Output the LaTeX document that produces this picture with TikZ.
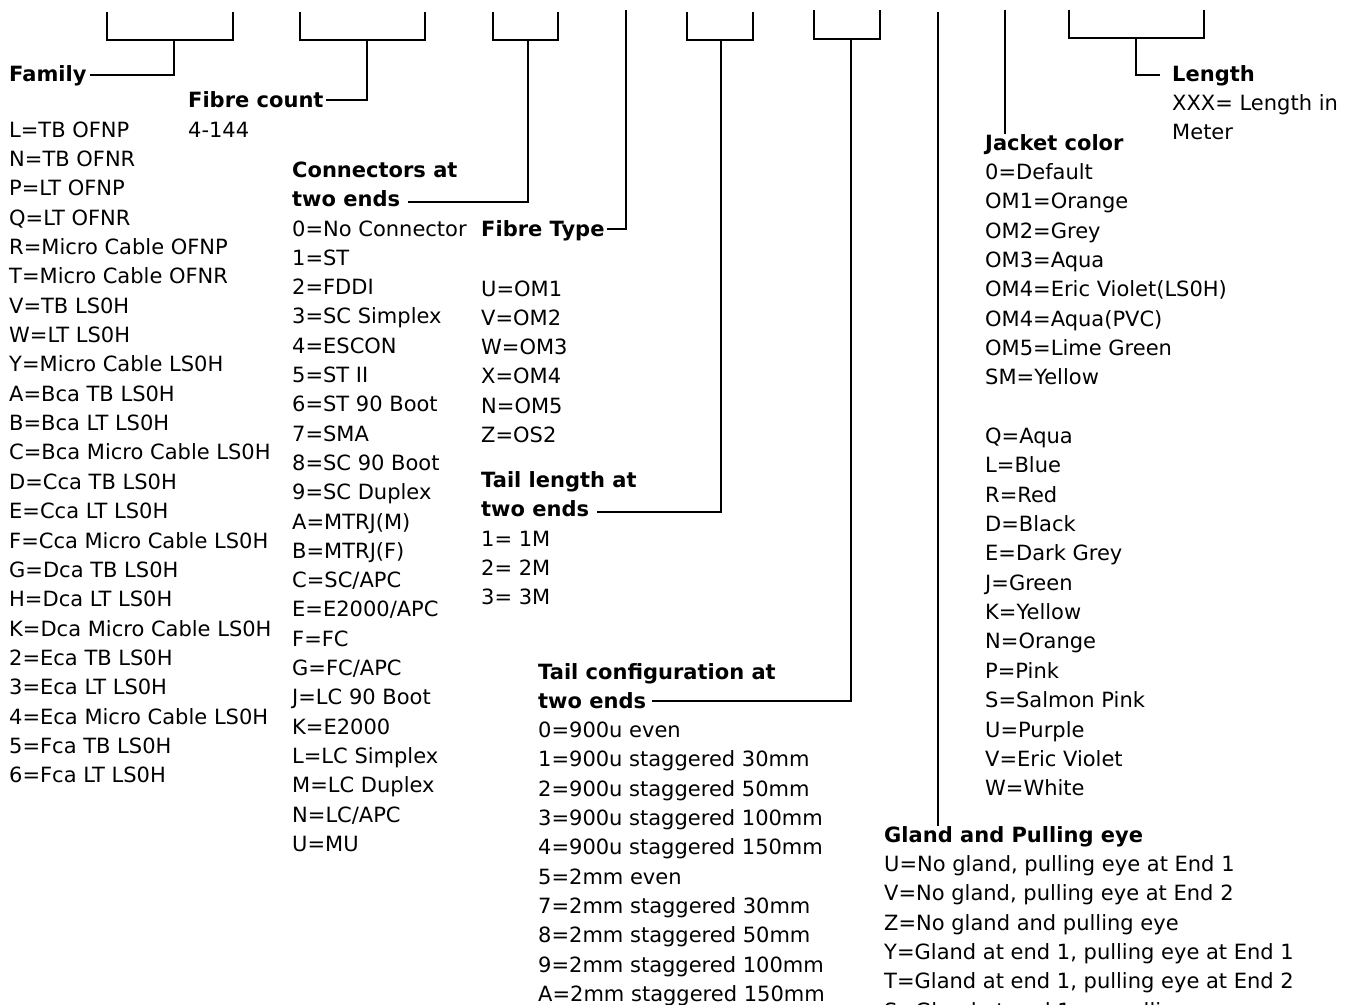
\documentclass[tikz,border=0pt]{standalone}
\usepackage{fontspec}
\setmainfont{DejaVu Sans}
\usetikzlibrary{calc}
\tikzset{
  txt/.style={anchor=base west, inner sep=0pt, font=\fontsize{21}{25}\selectfont},
  hd/.style={txt, font=\fontsize{21}{25}\selectfont\bfseries},
  ln/.style={line width=2pt, black}
}
\begin{document}
\begin{tikzpicture}[x=1pt,y=-1pt]
\useasboundingbox (0,0) rectangle (1352,1004);
\fill[white] (0,0) rectangle (1352,1004);

% ---- top brackets ----
\coordinate (b1l) at (107,12); \coordinate (b1r) at (233,12); \coordinate (b1s) at (174,40);
\coordinate (b2l) at (300,12); \coordinate (b2r) at (425,12); \coordinate (b2s) at (367,40);
\coordinate (b3l) at (493,12); \coordinate (b3r) at (558,12); \coordinate (b3s) at (528,40);
\coordinate (ftop) at (626,10);
\coordinate (b4l) at (687,12); \coordinate (b4r) at (753,12); \coordinate (b4s) at (721,40);
\coordinate (b5l) at (814,10); \coordinate (b5r) at (880,10); \coordinate (b5s) at (851,39);
\coordinate (gtop) at (938,12);
\coordinate (jtop) at (1005,10);
\coordinate (b6l) at (1069,10); \coordinate (b6r) at (1204,10); \coordinate (b6s) at (1136,38);

\draw[ln] (b1l) |- (b1s) -| (b1r);
\draw[ln] (b2l) |- (b2s) -| (b2r);
\draw[ln] (b3l) |- (b3s) -| (b3r);
\draw[ln] (b4l) |- (b4s) -| (b4r);
\draw[ln] (b5l) |- (b5s) -| (b5r);
\draw[ln] (b6l) |- (b6s) -| (b6r);

% ---- Family ----
\node[hd] (famhead) at (9,81) {Family};
\foreach \t [count=\i from 0] in {L=TB OFNP, N=TB OFNR, P=LT OFNP, Q=LT OFNR,
  R=Micro Cable OFNP, T=Micro Cable OFNR, V=TB LS0H, W=LT LS0H, Y=Micro Cable LS0H,
  A=Bca TB LS0H, B=Bca LT LS0H, C=Bca Micro Cable LS0H, D=Cca TB LS0H, E=Cca LT LS0H,
  F=Cca Micro Cable LS0H, G=Dca TB LS0H, H=Dca LT LS0H, K=Dca Micro Cable LS0H,
  2=Eca TB LS0H, 3=Eca LT LS0H, 4=Eca Micro Cable LS0H, 5=Fca TB LS0H, 6=Fca LT LS0H}
  \node[txt] (fam\i) at (9,{137+\i*29.36}) {\t};

% ---- Fibre count ----
\node[hd] (fchead) at (188,107.5) {Fibre count};
\node[txt] (fc0) at (188,137) {4-144};

% ---- Connectors ----
\node[hd] (conhead1) at (292,177) {Connectors at};
\node[hd] (conhead2) at (292,206.3) {two ends};
\foreach \t [count=\i from 0] in {0=No Connector, 1=ST, 2=FDDI, 3=SC Simplex, 4=ESCON,
  5=ST II, 6=ST 90 Boot, 7=SMA, 8=SC 90 Boot, 9=SC Duplex, A=MTRJ(M), B=MTRJ(F),
  C=SC/APC, E=E2000/APC, F=FC, G=FC/APC, J=LC 90 Boot, K=E2000, L=LC Simplex,
  M=LC Duplex, N=LC/APC, U=MU}
  \node[txt] (con\i) at (292,{236+\i*29.3}) {\t};

% ---- Fibre Type ----
\node[hd] (fthead) at (481,236) {Fibre Type};
\foreach \t [count=\i from 0] in {U=OM1, V=OM2, W=OM3, X=OM4, N=OM5, Z=OS2}
  \node[txt] (ft\i) at (481,{296+\i*29.3}) {\t};

% ---- Tail length ----
\node[hd] (tlhead1) at (481,487) {Tail length at};
\node[hd] (tlhead2) at (481,516.3) {two ends};
\foreach \t [count=\i from 0] in {1= 1M, 2= 2M, 3= 3M}
  \node[txt] (tl\i) at (481,{546+\i*29.3}) {\t};

% ---- Tail configuration ----
\node[hd] (tchead1) at (538,679) {Tail configuration at};
\node[hd] (tchead2) at (538,708.3) {two ends};
\foreach \t [count=\i from 0] in {0=900u even, 1=900u staggered 30mm, 2=900u staggered 50mm,
  3=900u staggered 100mm, 4=900u staggered 150mm, 5=2mm even, 7=2mm staggered 30mm,
  8=2mm staggered 50mm, 9=2mm staggered 100mm, A=2mm staggered 150mm}
  \node[txt] (tc\i) at (538,{737.6+\i*29.33}) {\t};

% ---- Gland ----
\node[hd] (glhead) at (884,842) {Gland and Pulling eye};
\foreach \t [count=\i from 0] in {{U=No gland, pulling eye at End 1},
  {V=No gland, pulling eye at End 2}, {Z=No gland and pulling eye},
  {Y=Gland at end 1, pulling eye at End 1}, {T=Gland at end 1, pulling eye at End 2},
  {S=Gland at end 1, no pulling eye}}
  \node[txt] (gl\i) at (884,{871.4+\i*29.35}) {\t};

% ---- Jacket color ----
\node[hd] (jhead) at (985,150) {Jacket color};
\foreach \t [count=\i from 0] in {0=Default, OM1=Orange, OM2=Grey, OM3=Aqua,
  OM4=Eric Violet(LS0H), OM4=Aqua(PVC), OM5=Lime Green, SM=Yellow}
  \node[txt] (ja\i) at (985,{179.35+\i*29.35}) {\t};
\foreach \t [count=\i from 0] in {Q=Aqua, L=Blue, R=Red, D=Black, E=Dark Grey, J=Green,
  K=Yellow, N=Orange, P=Pink, S=Salmon Pink, U=Purple, V=Eric Violet, W=White}
  \node[txt] (jb\i) at (985,{443.5+\i*29.35}) {\t};

% ---- Length ----
\node[hd] (lenhead) at (1172,81) {Length};
\node[txt] (len1) at (1172,110.5) {XXX= Length in};
\node[txt] (len2) at (1172,139.8) {Meter};

% ---- connectors ----
\draw[ln] (b1s) |- ($(famhead.base east)+(3,-6)$);
\draw[ln] (b2s) |- ($(fchead.base east)+(2,-7.5)$);
\draw[ln] (b3s) |- ($(conhead2.base east)+(8,-4)$);
\draw[ln] (ftop) |- ($(fthead.base east)+(2,-7.5)$);
\draw[ln] (b4s) |- ($(tlhead2.base east)+(8,-4)$);
\draw[ln] (b5s) |- ($(tchead2.base east)+(6,-7)$);
\draw[ln] (gtop) -- (gtop |- glhead.north);
\draw[ln] (jtop) -- (jtop |- jhead.north);
\draw[ln] (b6s) |- ($(lenhead.base west)+(-12,-6)$);
\end{tikzpicture}
\end{document}
